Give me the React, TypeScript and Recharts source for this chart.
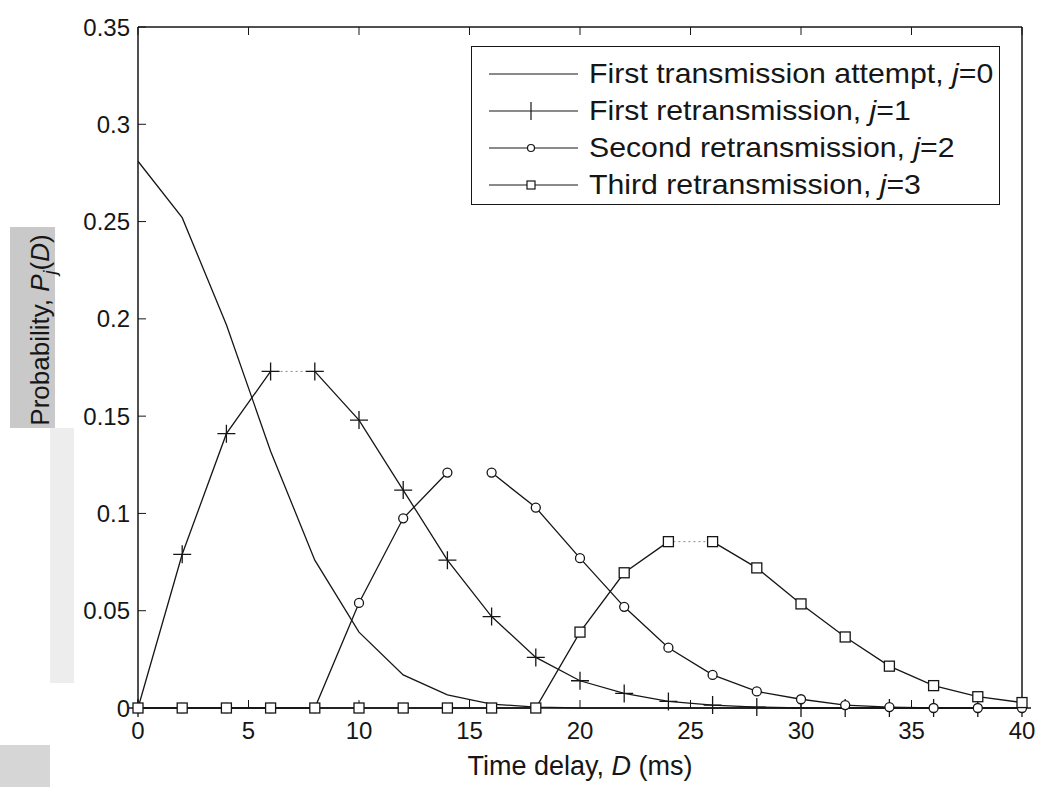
import { LineChart, Line, XAxis, YAxis, Legend } from 'recharts';

const delay = [0, 2, 4, 6, 8, 10, 12, 14, 16, 18, 20, 22, 24, 26, 28, 30, 32, 34, 36, 38, 40];

// P_j(D) for j = 0..3
const firstAttempt = [0.281, 0.252, 0.197, 0.132, 0.076, 0.039, 0.017, 0.0067, 0.002, 0.0005, 0, 0, 0, 0, 0, 0, 0, 0, 0, 0, 0];
const firstRetx = [0, 0.079, 0.141, 0.173, 0.173, 0.148, 0.112, 0.076, 0.047, 0.026, 0.014, 0.0075, 0.0034, 0.0015, 0.0005, 0, 0, 0, 0, 0, 0];
const secondRetx = [0, 0, 0, 0, 0, 0.054, 0.0975, 0.121, 0.121, 0.103, 0.077, 0.052, 0.031, 0.017, 0.0085, 0.0045, 0.0015, 0.0005, 0, 0, 0];
const thirdRetx = [0, 0, 0, 0, 0, 0, 0, 0, 0, 0, 0.039, 0.0695, 0.0855, 0.0855, 0.072, 0.0535, 0.0365, 0.0215, 0.0115, 0.0058, 0.0028];

const xTicks = [0, 5, 10, 15, 20, 25, 30, 35, 40];
const yTicks = [0, 0.05, 0.1, 0.15, 0.2, 0.25, 0.3, 0.35];

const legendNames = [
  'First transmission attempt, ',
  'First retransmission, ',
  'Second retransmission, ',
  'Third retransmission, ',
];

// the scan loses the flat segment at each peak: index of its left point
const gapAt = { j1: 3, j2: 7, j3: 12 };

const data = delay.map((d, i) => ({
  d,
  j0: firstAttempt[i],
  j1a: i <= gapAt.j1 ? firstRetx[i] : null,
  j1b: i > gapAt.j1 ? firstRetx[i] : null,
  j1gap: i === gapAt.j1 || i === gapAt.j1 + 1 ? firstRetx[i] : null,
  j2a: i <= gapAt.j2 ? secondRetx[i] : null,
  j2b: i > gapAt.j2 ? secondRetx[i] : null,
  j3a: i <= gapAt.j3 ? thirdRetx[i] : null,
  j3b: i > gapAt.j3 ? thirdRetx[i] : null,
  j3gap: i === gapAt.j3 || i === gapAt.j3 + 1 ? thirdRetx[i] : null,
}));

const ink = '#161616';
const font = '"Liberation Sans", Arial, sans-serif';

const plusDot = (p: any) => {
  const { cx, cy, index } = p;
  if (cx == null || cy == null || p.value == null) return <g key={`pl-${index}`} />;
  return (
    <path key={`pl-${index}`} d={`M${cx - 9},${cy}H${cx + 9}M${cx},${cy - 9}V${cy + 9}`} stroke={ink} strokeWidth={1.3} fill="none" />
  );
};

const circleDot = (p: any) => {
  const { cx, cy, index } = p;
  if (cx == null || cy == null || p.value == null) return <g key={`ci-${index}`} />;
  return <circle key={`ci-${index}`} cx={cx} cy={cy} r={4.5} stroke={ink} strokeWidth={1.3} fill="white" />;
};

const squareDot = (p: any) => {
  const { cx, cy, index } = p;
  if (cx == null || cy == null || p.value == null) return <g key={`sq-${index}`} />;
  return <rect key={`sq-${index}`} x={cx - 5} y={cy - 5} width={10} height={10} stroke={ink} strokeWidth={1.3} fill="white" />;
};

const legendMarks = [
  null,
  <path d="M59,8V26" stroke={ink} strokeWidth={1.2} />,
  <circle cx={59} cy={17} r={3.5} stroke={ink} strokeWidth={1.2} fill="white" />,
  <rect x={55} y={13} width={8} height={8} stroke={ink} strokeWidth={1.2} fill="white" />,
];

const LegendBox = () => (
  <div
    style={{
      width: 529,
      height: 159,
      border: `1.5px solid ${ink}`,
      background: 'white',
      boxSizing: 'border-box',
      paddingTop: 8,
      fontFamily: font,
      fontSize: 28,
      color: ink,
    }}
  >
    {legendNames.map((name, i) => (
      <div key={name} style={{ display: 'flex', alignItems: 'center', height: 37 }}>
        <svg width={117} height={34} style={{ flex: 'none' }}>
          <line x1={17} x2={106} y1={17} y2={17} stroke={ink} strokeWidth={1.2} />
          {legendMarks[i]}
        </svg>
        <span style={{ whiteSpace: 'nowrap', transform: 'scaleX(1.08)', transformOrigin: 'left center' }}>
          {name}
          <i>j</i>={i}
        </span>
      </div>
    ))}
  </div>
);

export default function App() {
  return (
    <div style={{ position: 'absolute', left: 0, top: 0, width: 1039, height: 787, background: 'white', overflow: 'hidden' }}>
      <svg width={1039} height={787} style={{ position: 'absolute', left: 0, top: 0 }}>
        <rect x={10} y={227} width={45} height={201} fill="#c9c9c9" />
        <rect x={50} y={428} width={24} height={255} fill="#ededed" />
        <rect x={0} y={745} width={50} height={42} fill="#d6d6d6" />
        <text
          transform="translate(49,330) rotate(-90)"
          textAnchor="middle"
          fontFamily={font}
          fontSize={26}
          fill={ink}
        >
          Probability, <tspan fontStyle="italic">P</tspan>
          <tspan fontStyle="italic" fontSize={18} dy={7}>j</tspan>
          <tspan dy={-7}>(</tspan>
          <tspan fontStyle="italic">D</tspan>)
        </text>
        <text x={580} y={775} textAnchor="middle" fontFamily={font} fontSize={27} fill={ink}>
          Time delay, <tspan fontStyle="italic">D</tspan> (ms)
        </text>
      </svg>
      <div style={{ position: 'absolute', left: 0, top: 0 }}>
        <LineChart width={1039} height={787} data={data} margin={{ top: 26, right: 16, bottom: 0, left: 0 }}>
          <XAxis
            dataKey="d"
            type="number"
            domain={[0, 40]}
            ticks={xTicks}
            height={79}
            tickSize={-8}
            tickMargin={22}
            axisLine={{ stroke: ink, strokeWidth: 1.5 }}
            tickLine={{ stroke: ink }}
            tick={{ fill: ink, fontSize: 24, fontFamily: font }}
          />
          <XAxis
            xAxisId="top"
            dataKey="d"
            type="number"
            orientation="top"
            domain={[0, 40]}
            ticks={xTicks}
            height={1}
            tickSize={-8}
            tickFormatter={() => ''}
            axisLine={{ stroke: ink, strokeWidth: 1.5 }}
            tickLine={{ stroke: ink }}
          />
          <YAxis
            type="number"
            domain={[0, 0.35]}
            ticks={yTicks}
            width={138}
            tickSize={-8}
            tickMargin={16}
            axisLine={{ stroke: ink, strokeWidth: 1.5 }}
            tickLine={{ stroke: ink }}
            tick={{ fill: ink, fontSize: 24, fontFamily: font }}
          />
          <YAxis
            yAxisId="right"
            type="number"
            orientation="right"
            domain={[0, 0.35]}
            ticks={yTicks}
            width={1}
            tickSize={-8}
            tickFormatter={() => ''}
            axisLine={{ stroke: ink, strokeWidth: 1.5 }}
            tickLine={{ stroke: ink }}
          />
          <Legend
            layout="horizontal"
            verticalAlign="middle"
            align="center"
            content={() => <LegendBox />}
            wrapperStyle={{ position: 'absolute', left: 471, top: 46, width: 529, height: 159 }}
          />
          <Line dataKey="j0" stroke={ink} strokeWidth={1.3} dot={false} isAnimationActive={false} />
          <Line dataKey="j1gap" stroke="#8a8a8a" strokeWidth={1} strokeDasharray="2 3" dot={false} isAnimationActive={false} />
          <Line dataKey="j3gap" stroke="#8a8a8a" strokeWidth={1} strokeDasharray="2 3" dot={false} isAnimationActive={false} />
          <Line dataKey="j1a" stroke={ink} strokeWidth={1.3} dot={plusDot} isAnimationActive={false} />
          <Line dataKey="j1b" stroke={ink} strokeWidth={1.3} dot={plusDot} isAnimationActive={false} />
          <Line dataKey="j2a" stroke={ink} strokeWidth={1.3} dot={circleDot} isAnimationActive={false} />
          <Line dataKey="j2b" stroke={ink} strokeWidth={1.3} dot={circleDot} isAnimationActive={false} />
          <Line dataKey="j3a" stroke={ink} strokeWidth={1.3} dot={squareDot} isAnimationActive={false} />
          <Line dataKey="j3b" stroke={ink} strokeWidth={1.3} dot={squareDot} isAnimationActive={false} />
        </LineChart>
      </div>
    </div>
  );
}
